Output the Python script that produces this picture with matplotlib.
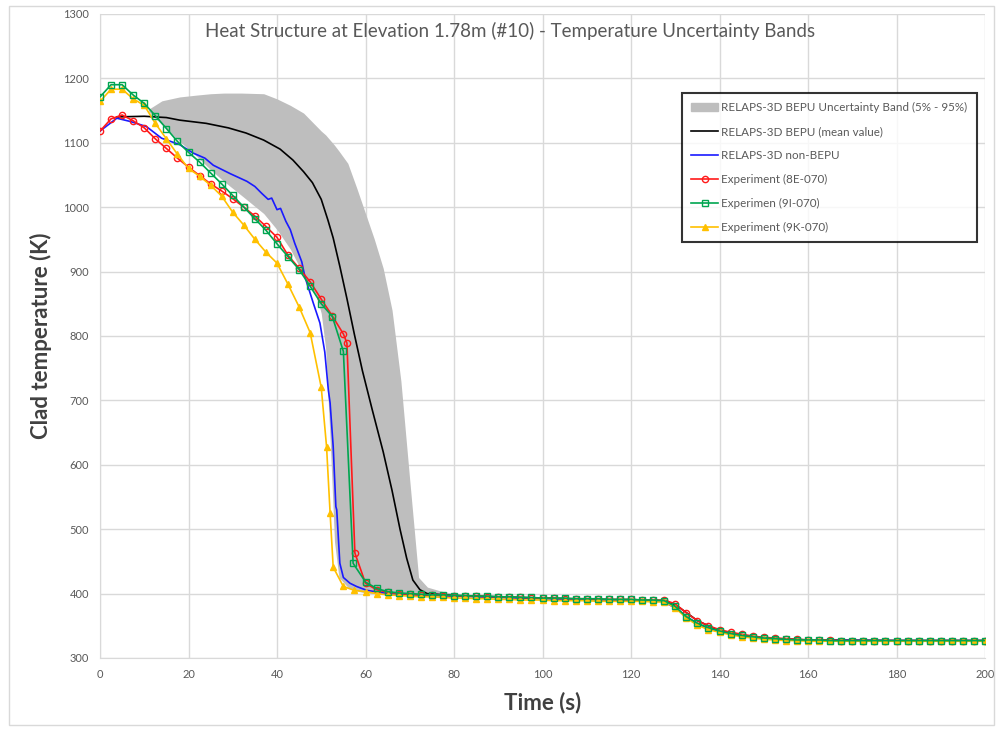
import numpy as np
import matplotlib.pyplot as plt
from matplotlib.patches import Patch, Rectangle
from matplotlib.lines import Line2D

plt.rcParams['font.family'] = ['Lato', 'DejaVu Sans']

# uncertainty band (5% - 95%)
band_t = [11, 14, 18, 22, 25, 28, 32, 37, 40, 43, 46, 49, 50, 51, 52, 53, 54, 56, 58,
          60, 62, 64, 66, 68, 70, 72, 74, 77, 80, 82]
band_hi = [1152, 1165, 1171, 1174, 1176, 1177, 1177, 1176, 1168, 1158, 1146, 1125, 1118,
           1112, 1104, 1096, 1087, 1068, 1030, 990, 950, 905, 840, 730, 576, 425, 410,
           404, 400, 398]
band_lo = [1148, 1128, 1102, 1078, 1058, 1040, 1018, 990, 965, 935, 895, 860, 835,
           780, 640, 480, 425, 410, 404, 401, 400, 399, 399, 398, 398, 398, 397, 397,
           397, 397]

# BEPU mean value
mean_t = [3.8, 10, 15, 18, 24, 29, 33, 37, 40.7, 43.6, 46, 48, 50, 51.5, 52.7, 54.2,
          55.8, 57.5, 59.3, 61.5, 64, 66, 67.8, 69.3, 70.7, 72.3, 73.9, 76, 80, 90,
          100, 110, 120, 128, 131, 135, 140, 145, 150, 160, 180, 200]
mean_T = [1140, 1141, 1139, 1135, 1130, 1123, 1115, 1104, 1090, 1073, 1055, 1038, 1012,
          980, 952, 908, 858, 802, 746, 686, 620, 560, 500, 455, 421, 406, 400, 399,
          397, 395, 393, 391, 390, 388, 378, 358, 342, 335, 331, 328, 327, 327]

# non-BEPU
nb_t = [0, 3.8, 6.8, 10.5, 13.9, 18, 21, 23.7, 25.6, 29.4, 33.2, 35, 36.6, 38, 38.8,
        40, 40.8, 42, 43, 44, 45.6, 46.3, 48.2, 49.7, 50.8, 51.6, 52, 52.7, 53.3, 53.5,
        54.2, 55, 56.5, 58, 60.3, 65, 70, 80, 90, 100, 110, 120, 127, 130, 133, 136,
        140, 145, 150, 155, 160, 180, 200]
nb_T = [1118, 1138, 1133, 1125, 1107, 1097, 1084, 1076, 1065, 1052, 1040, 1032, 1021,
        1012, 1014, 996, 998, 978, 965, 944, 915, 892, 851, 820, 775, 716, 696, 628,
        535, 530, 447, 425, 416, 411, 405, 400, 398, 396, 394, 392, 391, 390, 388, 378,
        362, 350, 341, 335, 331, 329, 328, 327, 327]

tail_t = list(np.arange(60, 200.1, 2.5))

# Experiment 8E-070
e8_t = list(np.arange(0, 55.1, 2.5)) + [55.8, 57.6] + tail_t
e8_T = [1118, 1137, 1143, 1134, 1123, 1106, 1091, 1076, 1062, 1049, 1036, 1025, 1013,
        1000, 986, 970, 953, 925, 905, 884, 857, 831, 803, 789, 463,
        416, 406, 402, 400, 399, 398, 398, 397, 397, 396, 396, 395, 395, 394, 394, 393,
        393, 393, 392, 392, 392, 391, 391, 391, 391, 390, 390, 390, 384, 370, 358, 350,
        344, 340, 337, 334, 332, 331, 330, 329, 328, 328, 328, 327, 327, 327, 327, 327,
        327, 327, 327, 327, 327, 327, 327, 327, 327]

# Experiment 9I-070
e9i_t = list(np.arange(0, 55.1, 2.5)) + [57.2] + tail_t
e9i_T = [1171, 1190, 1190, 1174, 1161, 1142, 1122, 1102, 1085, 1070, 1053, 1036, 1018,
         1000, 982, 964, 943, 923, 903, 877, 850, 830, 776, 447,
         418, 408, 403, 401, 400, 399, 398, 398, 397, 397, 396, 396, 395, 395, 394, 394,
         393, 393, 393, 392, 392, 392, 391, 391, 391, 390, 390, 389, 380, 364, 354, 347,
         342, 338, 335, 333, 331, 330, 329, 328, 328, 328, 327, 327, 327, 327, 327, 327,
         327, 327, 327, 327, 327, 327, 327, 327, 327]

# Experiment 9K-070
e9k_t = list(np.arange(0, 50.1, 2.5)) + [51.2, 52.0, 52.7, 55, 57.5] + tail_t
e9k_T = [1164, 1183, 1183, 1168, 1158, 1130, 1106, 1082, 1060, 1048, 1034, 1017, 992,
         972, 950, 930, 913, 880, 845, 805, 720, 628, 525, 441, 411, 405,
         403, 400, 398, 397, 396, 395, 395, 394, 393, 393, 392, 392, 391, 391, 390, 390,
         390, 389, 389, 389, 389, 388, 388, 388, 388, 388, 387, 387, 378, 362, 351, 344,
         340, 336, 333, 331, 329, 328, 327, 327, 326, 326, 326, 326, 326, 326, 326, 326,
         326, 326, 326, 326, 326, 326, 326, 326, 326]

fig = plt.figure(figsize=(10, 7.29), dpi=100)
ax = fig.add_axes([0.1, 0.0974, 0.885, 0.8836])

grey_txt = '#595959'
ax.fill_between(band_t, band_lo, band_hi, color='#bebebe', lw=0, zorder=1)
ax.plot(mean_t, mean_T, color='black', lw=1.2, zorder=3)
ax.plot(nb_t, nb_T, color='#1a1aff', lw=1.2, zorder=3)
ax.plot(e8_t, e8_T, color='#ff1a1a', lw=1.2, marker='o', ms=4.5, mfc='none',
        mew=1.0, zorder=4)
ax.plot(e9i_t, e9i_T, color='#00a550', lw=1.2, marker='s', ms=4.2, mfc='none',
        mew=1.0, zorder=5)
ax.plot(e9k_t, e9k_T, color='#ffc000', lw=1.2, marker='^', ms=4.5, zorder=4)

ax.set_xlim(0, 200)
ax.set_ylim(300, 1300)
ax.set_xticks(np.arange(0, 201, 20))
ax.set_yticks(np.arange(300, 1301, 100))
ax.grid(True, color='#d9d9d9', lw=1.0)
ax.set_axisbelow(True)
ax.tick_params(length=0, labelsize=8, colors=grey_txt, pad=8)
for s in ['top', 'right']:
    ax.spines[s].set_visible(False)
for s in ['left', 'bottom']:
    ax.spines[s].set_color('#d9d9d9')

ax.set_xlabel('Time (s)', fontsize=16, fontweight='bold', color='#404040', labelpad=8)
ax.set_ylabel('Clad temperature (K)', fontsize=16, fontweight='bold', color='#404040',
              labelpad=8)
fig.text(0.51, 0.957, 'Heat Structure at Elevation 1.78m (#10) - Temperature Uncertainty Bands',
         ha='center', va='center', fontsize=13.5, color=grey_txt)

handles = [Patch(color='#bebebe'),
           Line2D([], [], color='black', lw=1.2),
           Line2D([], [], color='#1a1aff', lw=1.2),
           Line2D([], [], color='#ff1a1a', lw=1.2, marker='o', ms=4.5, mfc='none'),
           Line2D([], [], color='#00a550', lw=1.2, marker='s', ms=4.2, mfc='none'),
           Line2D([], [], color='#ffc000', lw=1.2, marker='^', ms=4.5)]
labels = ['RELAPS-3D BEPU Uncertainty Band (5% - 95%)',
          'RELAPS-3D BEPU (mean value)',
          'RELAPS-3D non-BEPU',
          'Experiment (8E-070)',
          'Experimen (9I-070)',
          'Experiment (9K-070)']
leg = ax.legend(handles, labels, loc='upper left', bbox_to_anchor=(0.651, 0.886),
                fontsize=8.4, frameon=True, fancybox=False, labelspacing=1.1,
                handlelength=2.3, borderpad=0.8, handletextpad=0.25)
leg.get_frame().set_edgecolor('black')
leg.get_frame().set_linewidth(1.5)
for t in leg.get_texts():
    t.set_color(grey_txt)

fig.patches.append(Rectangle((0.009, 0.005), 0.985, 0.987, transform=fig.transFigure,
                             fill=False, edgecolor='#d9d9d9', lw=1.0))

fig.savefig('out.png', dpi=100)
